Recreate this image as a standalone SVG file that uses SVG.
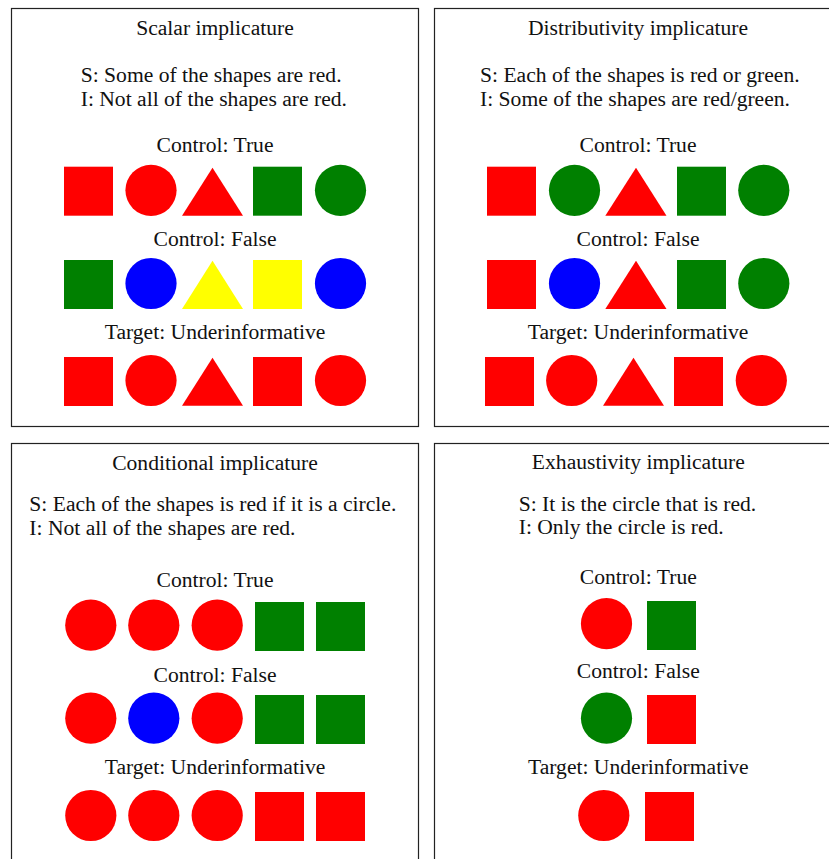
<svg xmlns="http://www.w3.org/2000/svg" width="829" height="859" viewBox="0 0 829 859">
<defs>
<style>
text{font-family:"Liberation Serif","Times New Roman",serif;font-size:21.6px;fill:#111;}
.c{text-anchor:middle;}
.box{fill:#fff;stroke:#222;stroke-width:1.2;}
.r{fill:#ff0000;}
.g{fill:#008000;}
.b{fill:#0000ff;}
.y{fill:#ffff00;}
</style>
</defs>
<rect width="829" height="859" fill="#fff"/>

<g id="panel-scalar">
<rect class="box" x="11.5" y="8.5" width="407" height="418"/>
<text class="c" x="215" y="35">Scalar implicature</text>
<text x="80.7" y="82">S: Some of the shapes are red.</text>
<text x="80.7" y="106">I: Not all of the shapes are red.</text>
<text class="c" x="215" y="152">Control: True</text>
<rect class="r" x="64" y="166.7" width="49" height="49"/>
<circle class="r" cx="151" cy="190.3" r="25.6"/>
<polygon class="r" points="182,215.7 212.5,167.7 243,215.7"/>
<rect class="g" x="253" y="166.7" width="49" height="49"/>
<circle class="g" cx="340.5" cy="190.3" r="25.6"/>
<text class="c" x="215" y="246">Control: False</text>
<rect class="g" x="64" y="260" width="49" height="49"/>
<circle class="b" cx="151" cy="283.5" r="25.6"/>
<polygon class="y" points="182,309 212.5,260.7 243,309"/>
<rect class="y" x="253" y="260" width="49" height="49"/>
<circle class="b" cx="340.5" cy="283.5" r="25.6"/>
<text class="c" x="215" y="339">Target: Underinformative</text>
<rect class="r" x="64" y="357" width="49" height="49"/>
<circle class="r" cx="151" cy="380.5" r="25.6"/>
<polygon class="r" points="182,405.7 212.5,357.7 243,405.7"/>
<rect class="r" x="253" y="357" width="49" height="49"/>
<circle class="r" cx="340.5" cy="380.5" r="25.6"/>
</g>

<g id="panel-distributivity">
<rect class="box" x="434.5" y="8.5" width="407" height="418"/>
<text class="c" x="638" y="35">Distributivity implicature</text>
<text x="480" y="82">S: Each of the shapes is red or green.</text>
<text x="480" y="106">I: Some of the shapes are red/green.</text>
<text class="c" x="638" y="152">Control: True</text>
<rect class="r" x="487" y="166.7" width="49" height="49"/>
<circle class="g" cx="574.5" cy="190.3" r="25.6"/>
<polygon class="r" points="605.3,215.7 636,167.7 666.5,215.7"/>
<rect class="g" x="677" y="166.7" width="49" height="49"/>
<circle class="g" cx="763.8" cy="190.3" r="25.6"/>
<text class="c" x="638" y="246">Control: False</text>
<rect class="r" x="487" y="260" width="49" height="49"/>
<circle class="b" cx="574.5" cy="283.5" r="25.6"/>
<polygon class="r" points="605.3,309 636,260.7 666.5,309"/>
<rect class="g" x="677" y="260" width="49" height="49"/>
<circle class="g" cx="763.8" cy="283.5" r="25.6"/>
<text class="c" x="638" y="339">Target: Underinformative</text>
<rect class="r" x="485" y="357" width="49" height="49"/>
<circle class="r" cx="571.7" cy="380.5" r="25.6"/>
<polygon class="r" points="603,405.7 633.5,357.7 664,405.7"/>
<rect class="r" x="674" y="357" width="49" height="49"/>
<circle class="r" cx="761.3" cy="380.5" r="25.6"/>
</g>

<g id="panel-conditional">
<rect class="box" x="11.5" y="443.5" width="407" height="430"/>
<text class="c" x="215" y="470">Conditional implicature</text>
<text x="29.3" y="510.7">S: Each of the shapes is red if it is a circle.</text>
<text x="29.3" y="535">I: Not all of the shapes are red.</text>
<text class="c" x="215" y="586.7">Control: True</text>
<circle class="r" cx="90.8" cy="625.2" r="25.6"/>
<circle class="r" cx="153.8" cy="625.2" r="25.6"/>
<circle class="r" cx="217.2" cy="625.2" r="25.6"/>
<rect class="g" x="255" y="602" width="49" height="49"/>
<rect class="g" x="316" y="602" width="49" height="49"/>
<text class="c" x="215" y="681.7">Control: False</text>
<circle class="r" cx="90.8" cy="718.2" r="25.6"/>
<circle class="b" cx="153.8" cy="718.2" r="25.6"/>
<circle class="r" cx="217.2" cy="718.2" r="25.6"/>
<rect class="g" x="255" y="695" width="49" height="49"/>
<rect class="g" x="316" y="695" width="49" height="49"/>
<text class="c" x="215" y="774">Target: Underinformative</text>
<circle class="r" cx="90.8" cy="815.5" r="25.6"/>
<circle class="r" cx="153.8" cy="815.5" r="25.6"/>
<circle class="r" cx="217.2" cy="815.5" r="25.6"/>
<rect class="r" x="255" y="792" width="49" height="49"/>
<rect class="r" x="316" y="792" width="49" height="49"/>
</g>

<g id="panel-exhaustivity">
<rect class="box" x="434.5" y="443.5" width="407" height="430"/>
<text class="c" x="638.3" y="469.3">Exhaustivity implicature</text>
<text x="518.7" y="510.7">S: It is the circle that is red.</text>
<text x="518.7" y="534.3">I: Only the circle is red.</text>
<text class="c" x="638.3" y="584">Control: True</text>
<circle class="r" cx="606.5" cy="623.7" r="25.6"/>
<rect class="g" x="647" y="601" width="49" height="49"/>
<text class="c" x="638.3" y="678.3">Control: False</text>
<circle class="g" cx="606.5" cy="718.2" r="25.6"/>
<rect class="r" x="647" y="695" width="49" height="49"/>
<text class="c" x="638.3" y="774">Target: Underinformative</text>
<circle class="r" cx="603.8" cy="815.5" r="25.6"/>
<rect class="r" x="645" y="792" width="49" height="49"/>
</g>

<g id="connectors"></g>
</svg>
